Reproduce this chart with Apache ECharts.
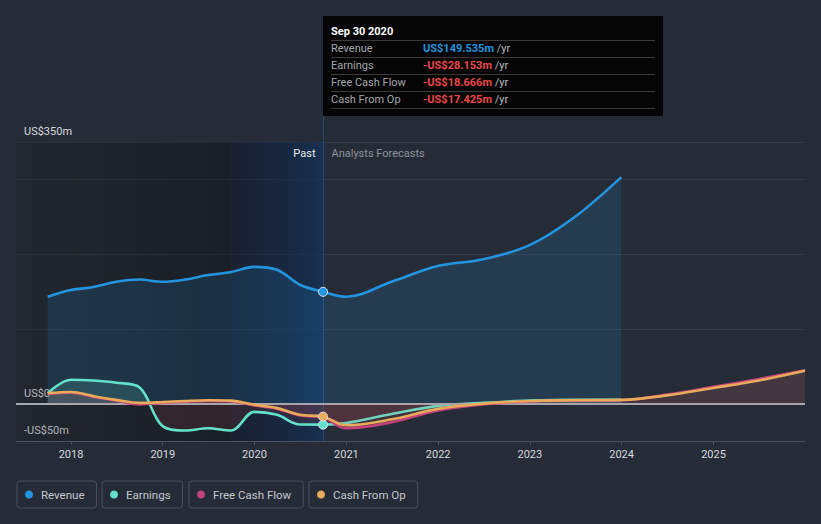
<!DOCTYPE html>
<html><head><meta charset="utf-8">
<script src="https://cdn.jsdelivr.net/npm/echarts@6/dist/echarts.min.js"></script>
<style>html,body{margin:0;padding:0;background:#262c37;}#c{width:821px;height:524px;}</style>
</head><body><div id="c"></div>
<script>
// ---- data ----
const pastDates = ['2017-09-30','2017-12-31','2018-03-31','2018-06-30','2018-09-30','2018-12-31','2019-03-31','2019-06-30','2019-09-30','2019-12-31','2020-03-31','2020-06-30','2020-09-30'];
const revenuePast  = [143, 152, 156, 163, 166, 163, 166, 172, 176, 183, 179, 159, 149.535];
const earningsPast = [14, 32, 31, 28, 22, -30, -36, -33, -36, -11, -15, -28, -28.153];
const fcfPast      = [13, 14.5, 9, 4, -1, 1, 2.5, 3.5, 3, -2.5, -7, -16, -18.666];
const cfoPast      = [14, 15.5, 10, 5, 1, 2, 3.5, 4.5, 4, -1.5, -6, -15, -17.425];

const forecastDates = ['2020-12-31','2021-06-30','2021-12-31','2022-06-30','2022-12-31','2023-06-30','2023-12-31','2024-06-30','2024-12-31','2025-06-30','2025-12-31'];
const revenueForecast  = [143, 163, 184, 193, 212, 250, 303];
const earningsForecast = [-26, -14, -3, 1, 4, 5, 5];
const fcfForecast      = [-33, -25, -9, -1, 3, 4, 4.5, 12, 22.5, 33, 44.5];
const cfoForecast      = [-29, -21, -7, 0, 3.5, 4.5, 5, 11, 21, 31, 44];

const seriesNames = ['Revenue', 'Earnings', 'Free Cash Flow', 'Cash From Op'];
const seriesColors = ['#2394df', '#63e1cc', '#c2407c', '#e9aa5a'];
const yTickValues = [-50, 0, 350];
const yTickLabels = ['-US$50m', 'US$0', 'US$350m'];
const xMin = '2017-05-27', xMax = '2025-12-31';
const highlightStart = '2019-09-30';
const currentDate = '2020-09-30';
const currentLabel = 'Sep 30 2020';

// ---- build ----
function build(past, fc) {
  const d = [];
  past.forEach((v, i) => d.push([pastDates[i], v]));
  fc.forEach((v, i) => d.push([forecastDates[i], v]));
  return d;
}
const allData = [
  build(revenuePast, revenueForecast),
  build(earningsPast, earningsForecast),
  build(fcfPast, fcfForecast),
  build(cfoPast, cfoForecast)
];
const curIdx = pastDates.length - 1;
const showDot = [true, true, false, true];

const FONT = 'Roboto, "Noto Sans", sans-serif';
const chart = echarts.init(document.getElementById('c'), null, {renderer: 'svg', width: 821, height: 524});

function fmt(v) { return (v < 0 ? '-' : '') + 'US$' + Math.abs(v).toFixed(3) + 'm'; }

const areaAlpha = [0.22, 0.22, 0.15, 0.1];
function hexA(hex, a) {
  const n = parseInt(hex.slice(1), 16);
  return 'rgba(' + (n >> 16) + ',' + ((n >> 8) & 255) + ',' + (n & 255) + ',' + a + ')';
}

const mainSeries = allData.map((data, s) => ({
  name: seriesNames[s],
  type: 'line',
  z: 3 + s,
  smooth: 0.35,
  symbol: 'none',
  silent: true,
  lineStyle: {width: 2.6, color: seriesColors[s]},
  itemStyle: {color: seriesColors[s]},
  areaStyle: {color: hexA(seriesColors[s], areaAlpha[s])},
  data: data.map((p, i) => (i === curIdx && showDot[s]) ? {
    value: p, symbol: 'circle', symbolSize: 9,
    itemStyle: {color: seriesColors[s], borderColor: '#dde2ea', borderWidth: 1}
  } : p)
}));

const bgSeries = {
  name: 'bg', type: 'line', z: 1, data: [], silent: true,
  markArea: {
    silent: true,
    data: [
      [{xAxis: xMin, itemStyle: {color: {type: 'linear', x: 0, y: 0, x2: 1, y2: 0, colorStops: [
        {offset: 0, color: 'rgba(10,10,12,0.16)'}, {offset: 1, color: 'rgba(5,5,8,0.36)'}]}}},
       {xAxis: highlightStart}],
      [{xAxis: highlightStart, itemStyle: {color: {type: 'linear', x: 0, y: 0, x2: 1, y2: 0, colorStops: [
        {offset: 0, color: 'rgba(8,17,38,0.42)'}, {offset: 1, color: 'rgba(15,49,97,0.62)'}]}}},
       {xAxis: currentDate}]
    ]
  },
  markLine: {
    silent: true, symbol: 'none', label: {show: false},
    lineStyle: {color: '#a6a9af', width: 2, type: 'solid'},
    data: [{yAxis: 0}]
  }
};

const legendLefts = [17, 102, 189, 309];
const legends = seriesNames.map((n, i) => ({
  data: [n], left: legendLefts[i], top: 481, orient: 'horizontal',
  icon: 'circle', itemWidth: 14, itemHeight: 8, itemGap: 0,
  padding: [7, 12, 7, 8], borderColor: '#4a505c', borderWidth: 1, borderRadius: 3,
  textStyle: {color: '#c3c7cf', fontSize: 11.5, fontFamily: FONT, lineHeight: 13},
  selectedMode: false
}));

const gridColor = '#333a46';
chart.setOption({
  backgroundColor: '#262c37',
  animation: false,
  legend: legends,
  grid: {left: 16, right: 16, top: 142, bottom: 83, containLabel: false},
  xAxis: {
    type: 'time', min: xMin, max: xMax,
    minInterval: 365 * 24 * 3600 * 1000, maxInterval: 366 * 24 * 3600 * 1000,
    axisLine: {show: true, onZero: false, lineStyle: {color: '#4a505c', width: 1}},
    axisTick: {show: true, length: 4, lineStyle: {color: '#4a505c'}},
    splitLine: {show: false},
    axisLabel: {color: '#d6d9de', fontSize: 11, fontFamily: FONT, margin: 8, formatter: '{yyyy}',
      showMinLabel: false, showMaxLabel: false}
  },
  yAxis: {
    type: 'value', min: -50, max: 350, interval: 50,
    axisLine: {show: false}, axisTick: {show: false},
    splitLine: {show: true, lineStyle: {width: 1, color: [gridColor, gridColor, 'rgba(0,0,0,0)', gridColor, 'rgba(0,0,0,0)', gridColor, 'rgba(0,0,0,0)', gridColor, gridColor]}},
    axisLabel: {
      inside: true, margin: 8, verticalAlign: 'bottom', padding: [0, 0, 5, 0],
      color: '#d6d9de', fontSize: 11, fontFamily: FONT,
      formatter: v => { const k = yTickValues.indexOf(v); return k >= 0 ? yTickLabels[k] : ''; }
    }
  },
  series: [bgSeries].concat(mainSeries)
});

// sign-based area fills (positive = series colour, negative = red)
const zeroY = chart.convertToPixel({yAxisIndex: 0}, 0);
const zOff = zeroY / 524;
function signGrad(col, aPos, aNeg) {
  return {type: 'linear', x: 0, y: 0, x2: 0, y2: 524, global: true, colorStops: [
    {offset: 0, color: hexA(col, aPos)}, {offset: zOff, color: hexA(col, aPos)},
    {offset: zOff, color: 'rgba(225,80,85,' + aNeg + ')'}, {offset: 1, color: 'rgba(225,80,85,' + aNeg + ')'}]};
}
const negA = [0, 0.16, 0.1, 0.07];
chart.setOption({series: [{}, {}].concat([1, 2, 3].map(s => ({
  areaStyle: {color: signGrad(seriesColors[s], areaAlpha[s], negA[s])}
})))});

// static tooltip panel and past/forecast labels
const cx = Math.round(chart.convertToPixel({xAxisIndex: 0}, currentDate)) + 0.5;
const bottomY = chart.convertToPixel({yAxisIndex: 0}, -50);
const topY = chart.convertToPixel({yAxisIndex: 0}, 350);
const curVals = [revenuePast[curIdx], earningsPast[curIdx], fcfPast[curIdx], cfoPast[curIdx]];
const tipX = cx - 0.5, tipY = 16, tipW = 340, tipH = 100;
const elems = [
  {type: 'line', z: 2, silent: true, shape: {x1: cx, y1: tipY + tipH, x2: cx, y2: bottomY}, style: {stroke: '#1f4a78', lineWidth: 1}},
  {type: 'text', z: 2, silent: true, style: {text: 'Past', x: cx - 8, y: topY + 11, textAlign: 'right', textVerticalAlign: 'middle', fill: '#e8eaee', fontSize: 11, fontFamily: FONT}},
  {type: 'text', z: 2, silent: true, style: {text: 'Analysts Forecasts', x: cx + 8, y: topY + 11, textAlign: 'left', textVerticalAlign: 'middle', fill: '#8e939c', fontSize: 11, fontFamily: FONT}},
  {type: 'rect', z: 50, silent: true, shape: {x: tipX, y: tipY, width: tipW, height: tipH}, style: {fill: '#050505'}},
  {type: 'text', z: 51, silent: true, style: {text: currentLabel, x: tipX + 8, y: tipY + 15, textVerticalAlign: 'middle', fill: '#ffffff', fontSize: 11, fontWeight: 'bold', fontFamily: FONT}}
];
for (let i = 0; i < 5; i++) {
  const ly = tipY + 24.5 + i * 17;
  elems.push({type: 'line', z: 51, silent: true, shape: {x1: tipX + 8, y1: ly, x2: tipX + tipW - 8, y2: ly}, style: {stroke: '#3a3a3a', lineWidth: 1}});
}
seriesNames.forEach((n, i) => {
  const ry = tipY + 32.5 + i * 17;
  const vc = curVals[i] < 0 ? '#ec4848' : seriesColors[0];
  elems.push({type: 'text', z: 52, silent: true, style: {text: n, x: tipX + 8, y: ry, textVerticalAlign: 'middle', fill: '#a4a7ad', fontSize: 11, fontFamily: FONT}});
  elems.push({type: 'text', z: 52, silent: true, style: {
    text: '{v|' + fmt(curVals[i]) + '} {u|/yr}', x: tipX + 100, y: ry, textVerticalAlign: 'middle',
    fontSize: 11, fontFamily: FONT,
    rich: {v: {fill: vc, fontSize: 11, fontWeight: 'bold', fontFamily: FONT}, u: {fill: '#b8bbc0', fontSize: 11, fontFamily: FONT}}
  }});
});
chart.setOption({graphic: {elements: elems}});
</script></body></html>
